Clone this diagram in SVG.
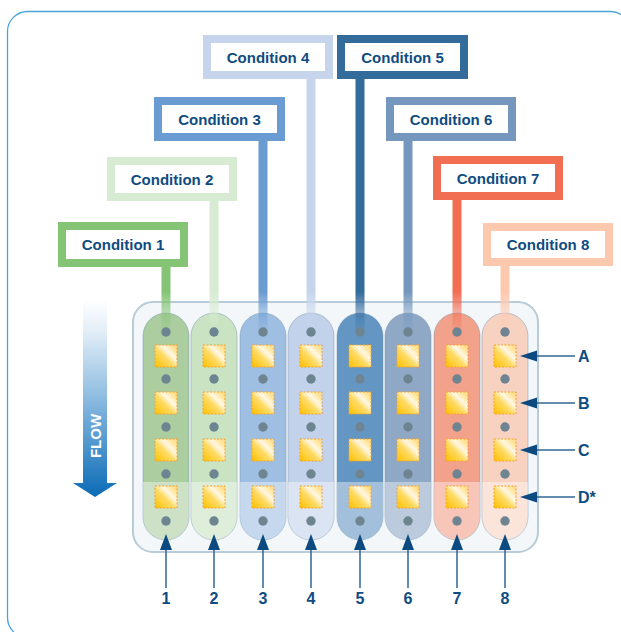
<svg xmlns="http://www.w3.org/2000/svg" width="621" height="632" viewBox="0 0 621 632">
<style>
.lbl{font-family:"Liberation Sans",Arial,sans-serif;font-weight:bold;fill:#0f4c81;}
.cond{font-size:15px;text-anchor:middle;}
.num{font-size:16px;text-anchor:middle;}
.row{font-size:16px;}
.box{fill:#ffffff;stroke-width:8;}
.tube{stroke:#6f8ea8;stroke-opacity:0.45;stroke-width:1;}
.dot{fill:#6e8591;}
.sq{fill:url(#sqg);stroke:#f6a02e;stroke-width:1;stroke-dasharray:2 1.5;}
.ln{stroke:#2f6693;stroke-width:1.5;fill:none;}
.hd{fill:#0d4a7f;}
</style>
<defs>
<linearGradient id="sqg" x1="0" y1="1" x2="1" y2="0">
<stop offset="0" stop-color="#ffc000"/>
<stop offset="0.45" stop-color="#ffdb66"/>
<stop offset="0.65" stop-color="#fff8e6"/>
<stop offset="0.8" stop-color="#ffe8a6"/>
<stop offset="1" stop-color="#ffd77a"/>
</linearGradient>
<linearGradient id="flowg" x1="0" y1="300" x2="0" y2="497" gradientUnits="userSpaceOnUse">
<stop offset="0" stop-color="#ffffff"/>
<stop offset="0.15" stop-color="#e4eff8"/>
<stop offset="0.5" stop-color="#8cbbe0"/>
<stop offset="1" stop-color="#0a6bb6"/>
</linearGradient>
<linearGradient id="fadeg" x1="0" y1="292" x2="0" y2="336" gradientUnits="userSpaceOnUse">
<stop offset="0" stop-color="#ffffff" stop-opacity="1"/>
<stop offset="1" stop-color="#ffffff" stop-opacity="0"/>
</linearGradient>
<mask id="stemMask" maskUnits="userSpaceOnUse" x="0" y="0" width="621" height="632">
<rect x="0" y="0" width="621" height="632" fill="url(#fadeg)"/>
</mask>
<clipPath id="tubeClip">
<rect x="143" y="313" width="46" height="227" rx="23"/>
<rect x="191" y="313" width="46" height="227" rx="23"/>
<rect x="240" y="313" width="46" height="227" rx="23"/>
<rect x="288" y="313" width="46" height="227" rx="23"/>
<rect x="337" y="313" width="46" height="227" rx="23"/>
<rect x="385" y="313" width="46" height="227" rx="23"/>
<rect x="434" y="313" width="46" height="227" rx="23"/>
<rect x="482" y="313" width="46" height="227" rx="23"/>
</clipPath>
</defs>

<rect id="frame" x="7.5" y="11.5" width="623" height="626" rx="20" fill="#ffffff" stroke="#4aa3dc" stroke-width="1.3"/>

<g id="flow">
<path d="M83,300 H107 V483 H117 L95,497 L73,483 H83 Z" fill="url(#flowg)"/>
<text class="lbl" transform="translate(100.5,436) rotate(-90)" style="font-size:15px;fill:#ffffff;text-anchor:middle;">FLOW</text>
</g>

<g id="tray">
<rect x="133" y="302" width="405" height="250" rx="20" fill="#f3f7fa" stroke="#b8cbd8" stroke-width="2"/>
</g>

<g id="tubes">
<rect class="tube" x="143" y="313" width="46" height="227" rx="23" fill="#abcd9f"/>
<rect class="tube" x="191" y="313" width="46" height="227" rx="23" fill="#c9e3c3"/>
<rect class="tube" x="240" y="313" width="46" height="227" rx="23" fill="#9fbfe2"/>
<rect class="tube" x="288" y="313" width="46" height="227" rx="23" fill="#c1d2ea"/>
<rect class="tube" x="337" y="313" width="46" height="227" rx="23" fill="#6496c3"/>
<rect class="tube" x="385" y="313" width="46" height="227" rx="23" fill="#8ea8c6"/>
<rect class="tube" x="434" y="313" width="46" height="227" rx="23" fill="#f2a18a"/>
<rect class="tube" x="482" y="313" width="46" height="227" rx="23" fill="#f8d2c1"/>
<rect x="133" y="482" width="405" height="60" fill="#ffffff" opacity="0.4" clip-path="url(#tubeClip)"/>
</g>

<g id="connectors">
<g mask="url(#stemMask)">
<rect x="161.5" y="267" width="9" height="72" fill="#84c474"/>
<rect x="209.5" y="200" width="9" height="139" fill="#d6ebd1"/>
<rect x="258.5" y="141" width="9" height="198" fill="#6a9bd2"/>
<rect x="306.5" y="79" width="9" height="260" fill="#c6d5ec"/>
<rect x="355.5" y="79" width="9" height="260" fill="#336b9b"/>
<rect x="403.5" y="141" width="9" height="198" fill="#7597bd"/>
<rect x="452.5" y="200" width="9" height="139" fill="#f26e52"/>
<rect x="500.5" y="266" width="9" height="73" fill="#fcc8ae"/>
</g>
<line class="ln" x1="166" y1="548" x2="166" y2="588"/><path class="hd" d="M166,534 L172,550 L160,550 Z"/>
<line class="ln" x1="214" y1="548" x2="214" y2="588"/><path class="hd" d="M214,534 L220,550 L208,550 Z"/>
<line class="ln" x1="263" y1="548" x2="263" y2="588"/><path class="hd" d="M263,534 L269,550 L257,550 Z"/>
<line class="ln" x1="311" y1="548" x2="311" y2="588"/><path class="hd" d="M311,534 L317,550 L305,550 Z"/>
<line class="ln" x1="360" y1="548" x2="360" y2="588"/><path class="hd" d="M360,534 L366,550 L354,550 Z"/>
<line class="ln" x1="408" y1="548" x2="408" y2="588"/><path class="hd" d="M408,534 L414,550 L402,550 Z"/>
<line class="ln" x1="457" y1="548" x2="457" y2="588"/><path class="hd" d="M457,534 L463,550 L451,550 Z"/>
<line class="ln" x1="505" y1="548" x2="505" y2="588"/><path class="hd" d="M505,534 L511,550 L499,550 Z"/>
<line class="ln" x1="535" y1="356" x2="575" y2="356"/><path class="hd" d="M520,356 L537,350.5 L537,361.5 Z"/>
<line class="ln" x1="535" y1="403" x2="575" y2="403"/><path class="hd" d="M520,403 L537,397.5 L537,408.5 Z"/>
<line class="ln" x1="535" y1="450" x2="575" y2="450"/><path class="hd" d="M520,450 L537,444.5 L537,455.5 Z"/>
<line class="ln" x1="535" y1="497" x2="575" y2="497"/><path class="hd" d="M520,497 L537,491.5 L537,502.5 Z"/>
</g>

<g id="wells">
<g class="dot">
<circle cx="166" cy="332" r="4.7"/><circle cx="166" cy="379" r="4.7"/><circle cx="166" cy="427" r="4.7"/><circle cx="166" cy="474" r="4.7"/><circle cx="166" cy="521" r="4.7"/>
<circle cx="214" cy="332" r="4.7"/><circle cx="214" cy="379" r="4.7"/><circle cx="214" cy="427" r="4.7"/><circle cx="214" cy="474" r="4.7"/><circle cx="214" cy="521" r="4.7"/>
<circle cx="263" cy="332" r="4.7"/><circle cx="263" cy="379" r="4.7"/><circle cx="263" cy="427" r="4.7"/><circle cx="263" cy="474" r="4.7"/><circle cx="263" cy="521" r="4.7"/>
<circle cx="311" cy="332" r="4.7"/><circle cx="311" cy="379" r="4.7"/><circle cx="311" cy="427" r="4.7"/><circle cx="311" cy="474" r="4.7"/><circle cx="311" cy="521" r="4.7"/>
<circle cx="360" cy="332" r="4.7"/><circle cx="360" cy="379" r="4.7"/><circle cx="360" cy="427" r="4.7"/><circle cx="360" cy="474" r="4.7"/><circle cx="360" cy="521" r="4.7"/>
<circle cx="408" cy="332" r="4.7"/><circle cx="408" cy="379" r="4.7"/><circle cx="408" cy="427" r="4.7"/><circle cx="408" cy="474" r="4.7"/><circle cx="408" cy="521" r="4.7"/>
<circle cx="457" cy="332" r="4.7"/><circle cx="457" cy="379" r="4.7"/><circle cx="457" cy="427" r="4.7"/><circle cx="457" cy="474" r="4.7"/><circle cx="457" cy="521" r="4.7"/>
<circle cx="505" cy="332" r="4.7"/><circle cx="505" cy="379" r="4.7"/><circle cx="505" cy="427" r="4.7"/><circle cx="505" cy="474" r="4.7"/><circle cx="505" cy="521" r="4.7"/>
</g>
<g>
<rect class="sq" x="155" y="345" width="22" height="22"/><rect class="sq" x="155" y="392" width="22" height="22"/><rect class="sq" x="155" y="439" width="22" height="22"/><rect class="sq" x="155" y="486" width="22" height="22"/>
<rect class="sq" x="203" y="345" width="22" height="22"/><rect class="sq" x="203" y="392" width="22" height="22"/><rect class="sq" x="203" y="439" width="22" height="22"/><rect class="sq" x="203" y="486" width="22" height="22"/>
<rect class="sq" x="252" y="345" width="22" height="22"/><rect class="sq" x="252" y="392" width="22" height="22"/><rect class="sq" x="252" y="439" width="22" height="22"/><rect class="sq" x="252" y="486" width="22" height="22"/>
<rect class="sq" x="300" y="345" width="22" height="22"/><rect class="sq" x="300" y="392" width="22" height="22"/><rect class="sq" x="300" y="439" width="22" height="22"/><rect class="sq" x="300" y="486" width="22" height="22"/>
<rect class="sq" x="349" y="345" width="22" height="22"/><rect class="sq" x="349" y="392" width="22" height="22"/><rect class="sq" x="349" y="439" width="22" height="22"/><rect class="sq" x="349" y="486" width="22" height="22"/>
<rect class="sq" x="397" y="345" width="22" height="22"/><rect class="sq" x="397" y="392" width="22" height="22"/><rect class="sq" x="397" y="439" width="22" height="22"/><rect class="sq" x="397" y="486" width="22" height="22"/>
<rect class="sq" x="446" y="345" width="22" height="22"/><rect class="sq" x="446" y="392" width="22" height="22"/><rect class="sq" x="446" y="439" width="22" height="22"/><rect class="sq" x="446" y="486" width="22" height="22"/>
<rect class="sq" x="494" y="345" width="22" height="22"/><rect class="sq" x="494" y="392" width="22" height="22"/><rect class="sq" x="494" y="439" width="22" height="22"/><rect class="sq" x="494" y="486" width="22" height="22"/>
</g>
</g>

<g id="cond1"><rect class="box" x="62" y="226" width="122" height="37" stroke="#84c474"/><text class="lbl cond" x="123" y="250">Condition 1</text></g>
<g id="cond2"><rect class="box" x="111" y="161" width="122" height="36" stroke="#d6ebd1"/><text class="lbl cond" x="172" y="184.5">Condition 2</text></g>
<g id="cond3"><rect class="box" x="158" y="101" width="123" height="36" stroke="#6a9bd2"/><text class="lbl cond" x="219.5" y="124.5">Condition 3</text></g>
<g id="cond4"><rect class="box" x="207" y="39" width="122" height="36" stroke="#c6d5ec"/><text class="lbl cond" x="268" y="62.5">Condition 4</text></g>
<g id="cond5"><rect class="box" x="341" y="39" width="123" height="36" stroke="#336b9b"/><text class="lbl cond" x="402.5" y="62.5">Condition 5</text></g>
<g id="cond6"><rect class="box" x="390" y="101" width="122" height="36" stroke="#7597bd"/><text class="lbl cond" x="451" y="124.5">Condition 6</text></g>
<g id="cond7"><rect class="box" x="437" y="160" width="122" height="36" stroke="#f26e52"/><text class="lbl cond" x="498" y="183.5">Condition 7</text></g>
<g id="cond8"><rect class="box" x="487" y="227" width="122" height="35" stroke="#fcc8ae"/><text class="lbl cond" x="548" y="250">Condition 8</text></g>

<g id="numbers">
<text class="lbl num" x="166" y="604">1</text>
<text class="lbl num" x="214" y="604">2</text>
<text class="lbl num" x="263" y="604">3</text>
<text class="lbl num" x="311" y="604">4</text>
<text class="lbl num" x="360" y="604">5</text>
<text class="lbl num" x="408" y="604">6</text>
<text class="lbl num" x="457" y="604">7</text>
<text class="lbl num" x="505" y="604">8</text>
</g>
<g id="rows">
<text class="lbl row" x="578" y="362">A</text>
<text class="lbl row" x="578" y="409">B</text>
<text class="lbl row" x="578" y="456">C</text>
<text class="lbl row" x="578" y="503">D*</text>
</g>
</svg>
